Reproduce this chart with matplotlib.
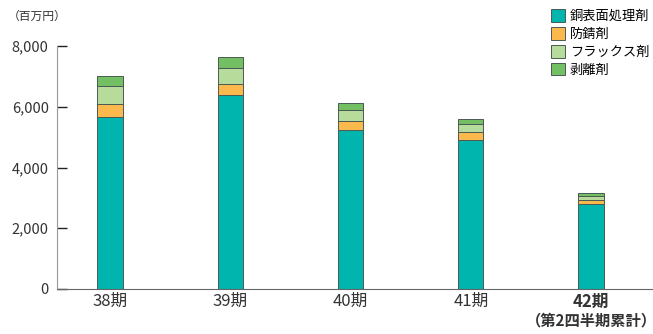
import matplotlib
matplotlib.use("Agg")
import matplotlib.pyplot as plt
from matplotlib.patches import Patch
import numpy as np

plt.rcParams['font.family'] = ['Noto Sans CJK JP', 'DejaVu Sans']

periods = ['38期', '39期', '40期', '41期', '42期']
period_note = '（第2四半期累計）'
series_names = ['銅表面処理剤', '防錆剤', 'フラックス剤', '剥離剤']
copper = [5650, 6380, 5230, 4920, 2785]
rust = [435, 370, 285, 235, 133]
flux = [595, 520, 375, 285, 132]
strip = [340, 360, 220, 150, 100]
colors = ['#00b5ad', '#fbb84c', '#b6db9b', '#72c063']
yticks = [0, 2000, 4000, 6000, 8000]

fig = plt.figure(figsize=(6.53, 3.34), dpi=100)
ax = fig.add_axes([57 / 653, 45 / 334, 596 / 653, 243 / 334])

x = np.arange(len(periods))
bottom = np.zeros(len(periods))
for vals, col in zip([copper, rust, flux, strip], colors):
    ax.bar(x, vals, width=0.21, bottom=bottom, color=col,
           edgecolor='#4a5a55', linewidth=0.7)
    bottom += np.array(vals)

ax.set_xlim(-0.44, 4.515)
ax.set_ylim(0, 8000)
ax.set_yticks(yticks)
ax.set_yticklabels([f'{v:,}' for v in yticks], fontsize=10.5, color='#333333')
ax.tick_params(axis='y', direction='in', length=7, width=1, color='#222222', pad=6)
ax.set_xticks(x)
ax.set_xticklabels(periods, fontsize=12, color='#333333')
ax.get_xticklabels()[-1].set_fontweight('bold')
ax.tick_params(axis='x', length=0, pad=3)

# second line under the last period label
ax.annotate(period_note, xy=(x[-1], 0), xycoords=('data', 'axes fraction'),
            xytext=(0, -23), textcoords='offset points', ha='center', va='center',
            fontsize=11, fontweight='bold', color='#333333', annotation_clip=False)

for s in ['top', 'right']:
    ax.spines[s].set_visible(False)
ax.spines['left'].set_color('#999999')
ax.spines['bottom'].set_color('#666666')

fig.text(8 / 653, 1 - 16 / 334, '（百万円）', fontsize=8.5, color='#333333', va='center')

handles = [Patch(facecolor=c, edgecolor='#4a5a55', linewidth=0.7) for c in colors]
fig.legend(handles, series_names, loc='upper left', bbox_to_anchor=(546 / 653, 1 - 4 / 334),
           frameon=False, fontsize=9.5, handlelength=1.05, handleheight=1.1,
           handletextpad=0.35, labelspacing=0.3, borderaxespad=0)

fig.savefig('out.png', dpi=100)
